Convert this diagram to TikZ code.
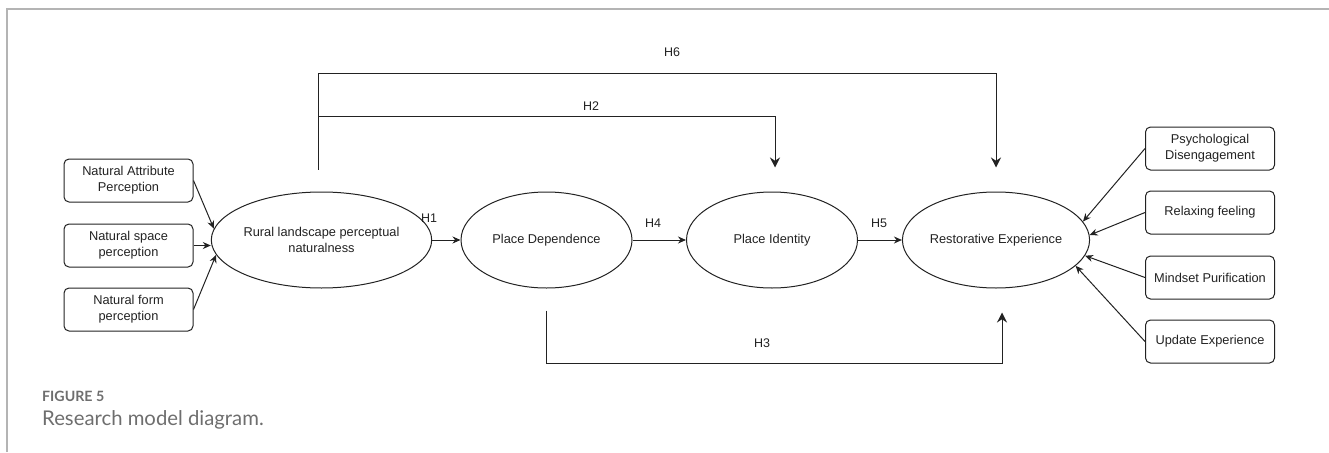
\documentclass[tikz,border=0pt]{standalone}
\usepackage{fontspec}
\setmainfont{Liberation Sans}
\newfontfamily\capfont{Lato}
\usetikzlibrary{shapes.geometric,arrows.meta,calc}
\definecolor{ink}{HTML}{222222}
\definecolor{framegray}{HTML}{B4B4B4}
\definecolor{capgray}{HTML}{6E6E6E}
\tikzset{
  lbl/.style={font=\fontsize{12.8}{16}\selectfont, text=ink, align=center},
  latent/.style={draw=ink, line width=1pt, ellipse, minimum width=171pt, minimum height=96pt, inner sep=0pt, lbl},
  indic/.style={draw=ink, line width=1pt, rectangle, rounded corners=5pt, minimum width=129pt, minimum height=43pt, inner sep=0pt, lbl},
  conn/.style={draw=ink, line width=1pt, -{Stealth[length=8pt,width=7pt]}},
  bigconn/.style={draw=ink, line width=1pt, -{Stealth[length=10pt,width=10pt]}},
  hyp/.style={font=\fontsize{12.5}{14}\selectfont, text=ink, inner sep=0pt}
}
\begin{document}
\begin{tikzpicture}[x=1pt,y=-1pt]
\useasboundingbox (0,0) rectangle (1329,452);
% frame
\draw[framegray, line width=1.4pt] (7,452) -- (7,9) -- (1329,9);
% latent constructs
\node[latent] (rural) at (321.5,240) {Rural landscape perceptual\\naturalness};
\node[latent] (dep) at (546.5,240) {Place Dependence};
\node[latent] (ide) at (772,240) {Place Identity};
\node[latent] (rest) at (996,240) {Restorative Experience};
% left indicators
\node[indic] (na) at (128.5,180.5) {Natural Attribute\\Perception};
\node[indic] (ns) at (128.5,245.5) {Natural space\\perception};
\node[indic] (nf) at (128.5,309.5) {Natural form\\perception};
% right indicators
\node[indic] (pd) at (1210,148.5) {Psychological\\Disengagement};
\node[indic] (rf) at (1210,212.5) {Relaxing feeling};
\node[indic] (mp) at (1210,277.5) {Mindset Purification};
\node[indic] (ue) at (1210,341.5) {Update Experience};
% indicator arrows
\draw[conn] (na.east) -- (rural.174);
\draw[conn] (ns.east) -- (ns.east -| rural.west);
\draw[conn] (nf.east) -- (rural.188);
\draw[conn] (pd.west) -- (rest.12);
\draw[conn] (rf.west) -- (rest.3);
\draw[conn] (mp.west) -- (rest.350);
\draw[conn] (ue.west) -- (rest.342);
% chain
\draw[conn] (rural.east) -- (dep.west);
\draw[conn] (dep.east) -- (ide.west);
\draw[conn] (ide.east) -- (rest.west);
\node[hyp] (h1) at (429,218) {H1};
\node[hyp] (h4) at (653,223) {H4};
\node[hyp] (h5) at (879,223) {H5};
% H2 and H6
\coordinate (hs) at ($(rural.north)+(-3.5,-22)$);
\coordinate (h2e) at ($(ide.north)+(3,-24)$);
\coordinate (h6e) at ($(rest.north)+(0,-24)$);
\draw[bigconn] (hs) -- (hs |- 0,116) -- (h2e |- 0,116) -- (h2e);
\draw[bigconn] (hs) -- (hs |- 0,73) -- (h6e |- 0,73) -- (h6e);
\node[hyp] (h2) at (591,106) {H2};
\node[hyp] (h6) at (672,52) {H6};
% H3
\coordinate (h3s) at ($(dep.south)+(0,22)$);
\coordinate (h3e) at ($(rest.south)+(6,24)$);
\draw[bigconn] (h3s) -- (h3s |- 0,363) -- (h3e |- 0,363) -- (h3e);
\node[hyp] (h3) at (762,343) {H3};
% caption
\node[anchor=base west, inner sep=0pt, text=capgray, font=\capfont\bfseries\fontsize{14.2}{16}\selectfont] (fig) at (42,401) {FIGURE 5};
\node[anchor=base west, inner sep=0pt, text=capgray, font=\capfont\fontsize{20.3}{22}\selectfont] (cap) at (42,425) {Research model diagram.};
\end{tikzpicture}
\end{document}
